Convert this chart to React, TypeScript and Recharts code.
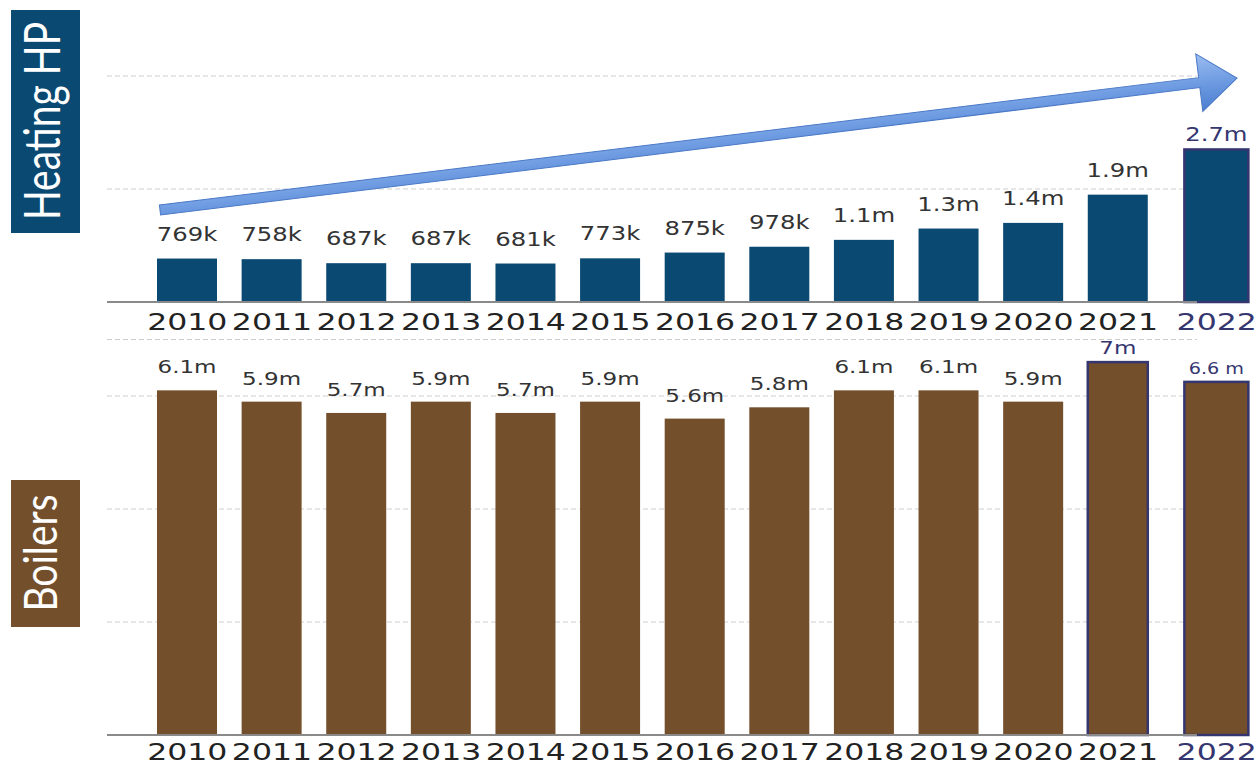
import React from "react";
import { BarChart, Bar, XAxis, YAxis, CartesianGrid } from "recharts";

const years = ["2010", "2011", "2012", "2013", "2014", "2015", "2016", "2017", "2018", "2019", "2020", "2021", "2022"];

// heat pump sales, millions
const heatPumpSales = [0.769, 0.758, 0.687, 0.687, 0.681, 0.773, 0.875, 0.978, 1.1, 1.3, 1.4, 1.9, 2.7];
const heatPumpLabels = ["769k", "758k", "687k", "687k", "681k", "773k", "875k", "978k", "1.1m", "1.3m", "1.4m", "1.9m", "2.7m"];

// boiler sales, millions (2021/2022 bars are drawn shorter than their labels in the source)
const boilerSales = [6.1, 5.9, 5.7, 5.9, 5.7, 5.9, 5.6, 5.8, 6.1, 6.1, 5.9, 6.6, 6.25];
const boilerLabels = ["6.1m", "5.9m", "5.7m", "5.9m", "5.7m", "5.9m", "5.6m", "5.8m", "6.1m", "6.1m", "5.9m", "7m", "6.6 m"];

const hpTicks = [0, 2, 4];
const boilerTicks = [0, 2, 4, 6];

const HP_BLUE = "#0a4972";
const BOILER_BROWN = "#744f2c";
const NAVY = "#35366f";
const LABEL_GREY = "#333333";
const LAST = years.length - 1;
const SHIFT = 14;

const hpData = years.map((year, i) => ({ year, value: heatPumpSales[i], label: heatPumpLabels[i] }));
const boilerData = years.map((year, i) => ({ year, value: boilerSales[i], label: boilerLabels[i] }));

const makeYearTick = (dy: number) => (props: any) => {
  const { x, y, payload } = props;
  const last = payload.value === years[LAST];
  return (
    <g transform={`translate(${x + (last ? SHIFT : 0)},${y + dy}) scale(1.37,1)`}>
      <text textAnchor="middle" fontFamily="DejaVu Sans" fontSize={23} fill={last ? NAVY : "#222"}>
        {payload.value}
      </text>
    </g>
  );
};

function makeShape(fill: string, bordered: number[], labelSize: number, gap: number, navyLabels: number[]) {
  return (props: any) => {
    const { x, y, width, height, index, payload } = props;
    const shift = index === LAST ? SHIFT : 0;
    const extra = index === LAST ? 4 : 0;
    const hasBorder = bordered.includes(index);
    const navy = navyLabels.includes(index);
    const cx = x + width / 2 + shift;
    const small = index === LAST && fill === BOILER_BROWN;
    return (
      <g>
        <rect
          x={x + shift - extra / 2}
          y={y}
          width={width + extra}
          height={height}
          fill={fill}
          stroke={hasBorder ? NAVY : "none"}
          strokeWidth={hasBorder ? 2.5 : 0}
        />
        <g transform={`translate(${cx},${y - (navy ? 8 : gap)}) scale(1.28,1)`}>
          <text
            textAnchor="middle"
            fontFamily="DejaVu Sans"
            fontSize={small ? 15 : labelSize}
            fill={navy ? NAVY : LABEL_GREY}
          >
            {payload.label}
          </text>
        </g>
      </g>
    );
  };
}

function Arrow() {
  const x0 = 160, y0 = 210, x1 = 1237, y1 = 78;
  const len = Math.hypot(x1 - x0, y1 - y0);
  const ang = (Math.atan2(y1 - y0, x1 - x0) * 180) / Math.PI;
  const head = 38, hw = 29, sw = 5;
  const pts = [
    [0, -sw], [len - head, -sw], [len - head, -hw], [len, 0],
    [len - head, hw], [len - head, sw], [0, sw],
  ].map((p) => p.join(",")).join(" ");
  return (
    <g transform={`translate(${x0},${y0}) rotate(${ang})`}>
      <defs>
        <linearGradient id="arrowFill" x1="0" y1="0" x2="0" y2="1">
          <stop offset="0%" stopColor="#9cbdf0" />
          <stop offset="50%" stopColor="#6f9ce2" />
          <stop offset="100%" stopColor="#4c7fd0" />
        </linearGradient>
      </defs>
      <polygon points={pts} fill="url(#arrowFill)" stroke="#4a78c6" strokeWidth={1} />
    </g>
  );
}

export default function App() {
  const margin = { right: 61, left: 107 };
  return (
    <div style={{ position: "absolute", left: 0, top: 0, width: 1258, height: 767, background: "#fff", overflow: "hidden" }}>
      <div style={{ position: "absolute", left: 0, top: 0 }}>
        <BarChart width={1258} height={340} data={hpData} margin={{ top: 76, bottom: 8, ...margin }} barSize={60}>
          <CartesianGrid vertical={false} stroke="#cfcfcf" strokeDasharray="5 3" />
          <XAxis
            dataKey="year"
            height={30}
            padding={{ left: 38, right: -48 }}
            tickLine={false}
            tickSize={0}
            tickMargin={0}
            axisLine={{ stroke: "#8a8a8a", strokeWidth: 2 }}
            tick={makeYearTick(28)}
            interval={0}
          />
          <YAxis hide domain={[0, 4]} ticks={hpTicks} />
          <Bar dataKey="value" isAnimationActive={false} shape={makeShape(HP_BLUE, [LAST], 19, 18, [LAST])} />
        </BarChart>
      </div>
      <div style={{ position: "absolute", left: 0, top: 300 }}>
        <BarChart width={1258} height={467} data={boilerData} margin={{ top: 39.5, bottom: 2, ...margin }} barSize={60}>
          <CartesianGrid vertical={false} stroke="#cfcfcf" strokeDasharray="5 3" />
          <XAxis
            dataKey="year"
            height={30}
            padding={{ left: 38, right: -48 }}
            tickLine={false}
            tickSize={0}
            tickMargin={0}
            axisLine={{ stroke: "#8a8a8a", strokeWidth: 2 }}
            tick={makeYearTick(25)}
            interval={0}
          />
          <YAxis hide domain={[0, 7]} ticks={boilerTicks} />
          <Bar dataKey="value" isAnimationActive={false} shape={makeShape(BOILER_BROWN, [LAST - 1, LAST], 18, 17, [LAST - 1, LAST])} />
        </BarChart>
      </div>
      <svg width={1258} height={767} style={{ position: "absolute", left: 0, top: 0, pointerEvents: "none" }}>
        <Arrow />
        <rect x={11} y={10} width={69} height={223} fill={HP_BLUE} />
        <g transform="translate(60,121) scale(1.3,1) rotate(-90)">
          <text textAnchor="middle" fontFamily="Lato" fontSize={39} fill="#fff">Heating HP</text>
        </g>
        <rect x={11} y={480} width={69} height={147} fill={BOILER_BROWN} />
        <g transform="translate(57,553) scale(1.2,1) rotate(-90)">
          <text textAnchor="middle" fontFamily="Lato" fontSize={39} fill="#fff">Boilers</text>
        </g>
      </svg>
    </div>
  );
}
